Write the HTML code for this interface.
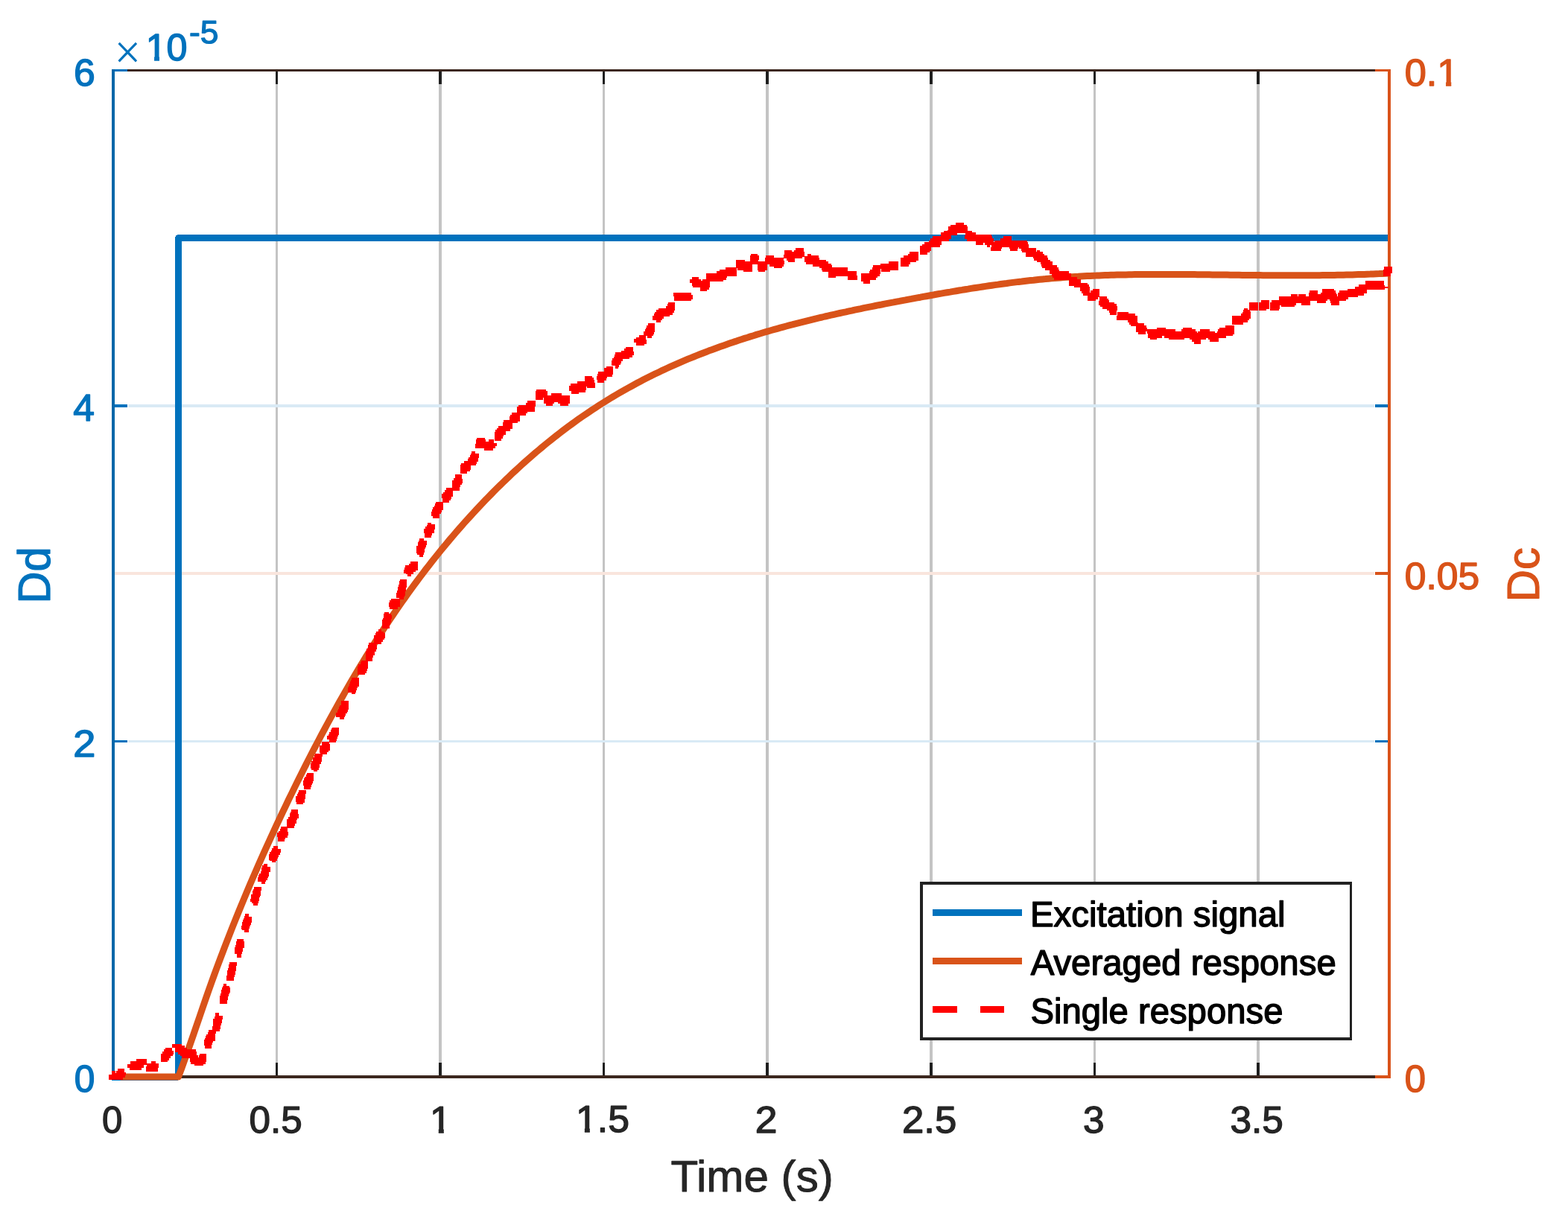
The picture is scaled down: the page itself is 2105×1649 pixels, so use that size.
<!DOCTYPE html>
<html lang="en"><head><meta charset="utf-8"><title>Step response</title>
<style>html,body{margin:0;padding:0;background:#fff}body{width:2105px;height:1649px;overflow:hidden}svg{display:block}text{font-family:"Liberation Sans","DejaVu Sans",sans-serif;text-rendering:geometricPrecision;stroke-linejoin:round}</style></head><body>
<svg width="2105" height="1649" viewBox="0 0 2105 1649">
<rect width="2105" height="1649" fill="#fff"/>
<g shape-rendering="crispEdges">
<rect x="370" y="113" width="3" height="1314" fill="#c4c4c4"/>
<rect x="589" y="113" width="4" height="1314" fill="#c4c4c4"/>
<rect x="809" y="113" width="3" height="1314" fill="#c4c4c4"/>
<rect x="1028" y="113" width="4" height="1314" fill="#c4c4c4"/>
<rect x="1248" y="113" width="4" height="1314" fill="#c4c4c4"/>
<rect x="1468" y="113" width="3" height="1314" fill="#c4c4c4"/>
<rect x="1687" y="113" width="4" height="1314" fill="#c4c4c4"/>
<rect x="172" y="543" width="1673" height="4" fill="#d9eaf5"/>
<rect x="172" y="994" width="1673" height="3" fill="#d9eaf5"/>
<rect x="154" y="768" width="1691" height="4" fill="#f9e5dd"/>
<rect x="370" y="96" width="3" height="17" fill="#1f1f1f"/>
<rect x="370" y="1427" width="3" height="17" fill="#1f1f1f"/>
<rect x="589" y="96" width="4" height="17" fill="#1f1f1f"/>
<rect x="589" y="1427" width="4" height="17" fill="#1f1f1f"/>
<rect x="809" y="96" width="3" height="17" fill="#1f1f1f"/>
<rect x="809" y="1427" width="3" height="17" fill="#1f1f1f"/>
<rect x="1028" y="96" width="4" height="17" fill="#1f1f1f"/>
<rect x="1028" y="1427" width="4" height="17" fill="#1f1f1f"/>
<rect x="1248" y="96" width="4" height="17" fill="#1f1f1f"/>
<rect x="1248" y="1427" width="4" height="17" fill="#1f1f1f"/>
<rect x="1468" y="96" width="3" height="17" fill="#1f1f1f"/>
<rect x="1468" y="1427" width="3" height="17" fill="#1f1f1f"/>
<rect x="1687" y="96" width="4" height="17" fill="#1f1f1f"/>
<rect x="1687" y="1427" width="4" height="17" fill="#1f1f1f"/>
<rect x="150" y="93" width="1717" height="3" fill="#3c271e"/>
<rect x="150" y="1444" width="1717" height="4" fill="#3c271e"/>
<rect x="154" y="93" width="17" height="3" fill="#0072BD"/>
<rect x="1846" y="93" width="17" height="3" fill="#0072BD"/>
<rect x="154" y="543" width="17" height="4" fill="#0072BD"/>
<rect x="1846" y="543" width="17" height="4" fill="#0072BD"/>
<rect x="154" y="994" width="17" height="3" fill="#0072BD"/>
<rect x="1846" y="994" width="17" height="3" fill="#0072BD"/>
<rect x="154" y="1444" width="17" height="4" fill="#0072BD"/>
<rect x="1846" y="1444" width="17" height="4" fill="#0072BD"/>
<rect x="150" y="93" width="4" height="1355" fill="#0767a9"/>
<rect x="1846" y="93" width="17" height="3" fill="#D95319"/>
<rect x="1846" y="768" width="17" height="4" fill="#D95319"/>
<rect x="1846" y="1444" width="17" height="4" fill="#D95319"/>
<rect x="1863" y="93" width="4" height="1355" fill="#d9531a"/>
</g>
<path d="M150,1446 L239.3,1446 L239.6,319.5 L1863,319.5" fill="none" stroke="#0072BD" stroke-width="9" stroke-linejoin="round" shape-rendering="crispEdges"/>
<path d="M161.5,1446.0 L239.5,1446.0 L243.5,1435.3 L247.5,1424.3 L251.5,1413.0 L255.5,1401.6 L259.5,1390.0 L263.5,1378.3 L267.5,1366.6 L271.5,1354.9 L275.5,1343.3 L279.5,1331.8 L283.5,1320.5 L287.5,1309.4 L291.5,1298.5 L295.5,1287.8 L299.5,1277.3 L303.5,1266.8 L307.5,1256.6 L311.5,1246.4 L315.5,1236.4 L319.5,1226.5 L323.5,1216.8 L327.5,1207.1 L331.5,1197.6 L335.5,1188.1 L339.5,1178.8 L343.5,1169.6 L347.5,1160.4 L351.5,1151.4 L355.5,1142.4 L359.5,1133.6 L363.5,1124.8 L367.5,1116.1 L371.5,1107.5 L375.5,1099.0 L379.5,1090.5 L383.5,1082.2 L387.5,1073.8 L391.5,1065.6 L395.5,1057.4 L399.5,1049.3 L403.5,1041.3 L407.5,1033.3 L411.5,1025.4 L415.5,1017.6 L419.5,1009.8 L423.5,1002.1 L427.5,994.5 L431.5,986.9 L435.5,979.5 L439.5,972.0 L443.5,964.7 L447.5,957.4 L451.5,950.2 L455.5,943.0 L459.5,936.0 L463.5,928.9 L467.5,922.0 L471.5,915.1 L475.5,908.3 L479.5,901.6 L483.5,894.9 L487.5,888.3 L491.5,881.7 L495.5,875.3 L499.5,868.9 L503.5,862.5 L507.5,856.3 L511.5,850.1 L515.5,843.9 L519.5,837.8 L523.5,831.8 L527.5,825.9 L531.5,820.0 L535.5,814.2 L539.5,808.5 L543.5,802.8 L547.5,797.2 L551.5,791.6 L555.5,786.1 L559.5,780.7 L563.5,775.4 L567.5,770.1 L571.5,764.8 L575.5,759.7 L579.5,754.5 L583.5,749.5 L587.5,744.5 L591.5,739.5 L595.5,734.6 L599.5,729.8 L603.5,725.0 L607.5,720.3 L611.5,715.6 L615.5,711.0 L619.5,706.5 L623.5,701.9 L627.5,697.5 L631.5,693.1 L635.5,688.7 L639.5,684.4 L643.5,680.1 L647.5,675.9 L651.5,671.7 L655.5,667.6 L659.5,663.5 L663.5,659.4 L667.5,655.4 L671.5,651.5 L675.5,647.6 L679.5,643.7 L683.5,639.9 L687.5,636.1 L691.5,632.4 L695.5,628.7 L699.5,625.0 L703.5,621.4 L707.5,617.9 L711.5,614.4 L715.5,610.9 L719.5,607.4 L723.5,604.1 L727.5,600.7 L731.5,597.4 L735.5,594.1 L739.5,590.9 L743.5,587.7 L747.5,584.6 L751.5,581.5 L755.5,578.4 L759.5,575.4 L763.5,572.4 L767.5,569.5 L771.5,566.6 L775.5,563.7 L779.5,560.9 L783.5,558.1 L787.5,555.4 L791.5,552.7 L795.5,550.0 L799.5,547.4 L803.5,544.8 L807.5,542.3 L811.5,539.8 L815.5,537.3 L819.5,534.8 L823.5,532.4 L827.5,530.0 L831.5,527.7 L835.5,525.4 L839.5,523.1 L843.5,520.9 L847.5,518.7 L851.5,516.5 L855.5,514.3 L859.5,512.2 L863.5,510.1 L867.5,508.1 L871.5,506.1 L875.5,504.1 L879.5,502.1 L883.5,500.2 L887.5,498.2 L891.5,496.4 L895.5,494.5 L899.5,492.7 L903.5,490.9 L907.5,489.1 L911.5,487.3 L915.5,485.6 L919.5,483.9 L923.5,482.2 L927.5,480.6 L931.5,479.0 L935.5,477.4 L939.5,475.8 L943.5,474.2 L947.5,472.7 L951.5,471.1 L955.5,469.7 L959.5,468.2 L963.5,466.7 L967.5,465.3 L971.5,463.9 L975.5,462.5 L979.5,461.1 L983.5,459.7 L987.5,458.4 L991.5,457.0 L995.5,455.7 L999.5,454.4 L1003.5,453.2 L1007.5,451.9 L1011.5,450.7 L1015.5,449.4 L1019.5,448.2 L1023.5,447.0 L1027.5,445.8 L1031.5,444.7 L1035.5,443.5 L1039.5,442.4 L1043.5,441.3 L1047.5,440.2 L1051.5,439.1 L1055.5,438.0 L1059.5,436.9 L1063.5,435.9 L1067.5,434.8 L1071.5,433.8 L1075.5,432.8 L1079.5,431.8 L1083.5,430.8 L1087.5,429.8 L1091.5,428.8 L1095.5,427.8 L1099.5,426.9 L1103.5,426.0 L1107.5,425.0 L1111.5,424.1 L1115.5,423.2 L1119.5,422.3 L1123.5,421.4 L1127.5,420.5 L1131.5,419.6 L1135.5,418.8 L1139.5,417.9 L1143.5,417.1 L1147.5,416.2 L1151.5,415.4 L1155.5,414.6 L1159.5,413.7 L1163.5,412.9 L1167.5,412.1 L1171.5,411.3 L1175.5,410.5 L1179.5,409.7 L1183.5,409.0 L1187.5,408.2 L1191.5,407.4 L1195.5,406.6 L1199.5,405.9 L1203.5,405.1 L1207.5,404.4 L1211.5,403.6 L1215.5,402.9 L1219.5,402.1 L1223.5,401.4 L1227.5,400.6 L1231.5,399.9 L1235.5,399.2 L1239.5,398.4 L1243.5,397.7 L1247.5,397.0 L1251.5,396.3 L1255.5,395.5 L1259.5,394.8 L1263.5,394.1 L1267.5,393.4 L1271.5,392.7 L1275.5,392.1 L1279.5,391.4 L1283.5,390.7 L1287.5,390.0 L1291.5,389.4 L1295.5,388.7 L1299.5,388.1 L1303.5,387.4 L1307.5,386.8 L1311.5,386.2 L1315.5,385.6 L1319.5,385.0 L1323.5,384.4 L1327.5,383.8 L1331.5,383.2 L1335.5,382.6 L1339.5,382.1 L1343.5,381.5 L1347.5,381.0 L1351.5,380.5 L1355.5,379.9 L1359.5,379.4 L1363.5,378.9 L1367.5,378.4 L1371.5,378.0 L1375.5,377.5 L1379.5,377.0 L1383.5,376.6 L1387.5,376.2 L1391.5,375.7 L1395.5,375.3 L1399.5,374.9 L1403.5,374.6 L1407.5,374.2 L1411.5,373.8 L1415.5,373.5 L1419.5,373.2 L1423.5,372.9 L1427.5,372.6 L1431.5,372.3 L1435.5,372.0 L1439.5,371.7 L1443.5,371.5 L1447.5,371.3 L1451.5,371.0 L1455.5,370.8 L1459.5,370.6 L1463.5,370.4 L1467.5,370.2 L1471.5,370.1 L1475.5,369.9 L1479.5,369.7 L1483.5,369.6 L1487.5,369.5 L1491.5,369.3 L1495.5,369.2 L1499.5,369.1 L1503.5,369.0 L1507.5,368.9 L1511.5,368.9 L1515.5,368.8 L1519.5,368.7 L1523.5,368.6 L1527.5,368.6 L1531.5,368.5 L1535.5,368.5 L1539.5,368.5 L1543.5,368.5 L1547.5,368.4 L1551.5,368.4 L1555.5,368.4 L1559.5,368.4 L1563.5,368.4 L1567.5,368.4 L1571.5,368.4 L1575.5,368.4 L1579.5,368.4 L1583.5,368.5 L1587.5,368.5 L1591.5,368.5 L1595.5,368.5 L1599.5,368.6 L1603.5,368.6 L1607.5,368.7 L1611.5,368.7 L1615.5,368.7 L1619.5,368.8 L1623.5,368.8 L1627.5,368.9 L1631.5,368.9 L1635.5,369.0 L1639.5,369.0 L1643.5,369.1 L1647.5,369.1 L1651.5,369.2 L1655.5,369.2 L1659.5,369.3 L1663.5,369.3 L1667.5,369.4 L1671.5,369.4 L1675.5,369.5 L1679.5,369.5 L1683.5,369.5 L1687.5,369.6 L1691.5,369.6 L1695.5,369.7 L1699.5,369.7 L1703.5,369.7 L1707.5,369.7 L1711.5,369.8 L1715.5,369.8 L1719.5,369.8 L1723.5,369.8 L1727.5,369.8 L1731.5,369.8 L1735.5,369.8 L1739.5,369.8 L1743.5,369.8 L1747.5,369.8 L1751.5,369.8 L1755.5,369.8 L1759.5,369.8 L1763.5,369.7 L1767.5,369.7 L1771.5,369.7 L1775.5,369.6 L1779.5,369.6 L1783.5,369.5 L1787.5,369.5 L1791.5,369.4 L1795.5,369.3 L1799.5,369.2 L1803.5,369.2 L1807.5,369.1 L1811.5,369.0 L1815.5,368.9 L1819.5,368.7 L1823.5,368.6 L1827.5,368.5 L1831.5,368.4 L1835.5,368.2 L1839.5,368.1 L1843.5,367.9 L1847.5,367.7 L1851.5,367.6 L1855.5,367.4 L1859.5,367.2 L1863.5,367.0 L1865.0,366.9" fill="none" stroke="#D95319" stroke-width="9.0" stroke-linejoin="round"/>
<path d="M150,1442.5h.2v2.6h10.1v-2.6h.2v2.6h.2v-2.6h1.8v-2.6h.2v2.6h.3v-2.6h1.5v-2.6h1.5v-2.6h2v-2.6h.2v2.6h.3v-2.6h1.2v-2.6h3.1v-2.6h2.4v2.6h3.6v2.6h6.9v-2.6h1.8v-2.6h.8v2.6h.2v-2.6h3.5v2.6h.5v-2.6h.2v2.6h.6v-2.6h.2v2.6h1.5v2.6h3.5v2.6h.2v-2.6h.8v2.6h.2v-2.6h.8v2.6h.5v-2.6h.2v2.6h.6v-2.6h.2v2.6h4.2v-2.6h.3v2.6h.5v-2.6h.8v-2.6h.7v-2.6h.8v-2.6h.7v-2.6h.8v-2.6h1.2v-2.6h.5v2.6h5.5v2.6h.2v-2.6h1.8v2.6h.2v-2.6h2.6v-2.6h1.4v-2.6h.3v2.6h.2v-2.6h1.8v-2.6h.2v2.6h.6v-2.6h1.4v-2.6h.3v2.6h.2v-2.6h.6v2.6h.4v-2.6h3.3v-2.6h.5v2.6h.2v-2.6h.3v2.6h.8v-2.6h3.7v2.6h4.8v2.6h2.4v2.6h2.1v2.6h.2v-2.6h1.2v2.6h.3v-2.6h.2v-2.6h.3v5.2h.2v-2.6h4.6v-2.6h.2v2.6h.2v-2.6h.3v2.6h.2v-2.6h.3v2.6h1.2v2.6h.3v-2.6h.2v2.6h.8v2.6h.5v2.6h.8v2.6h.2v-2.6h.2v2.6h.3v-2.6h.2v2.6h.6v2.6h.2v-2.6h.2v2.6h.3v-2.6h.2v2.6h.3v-2.6h.2v2.6h.3v-2.6h.5v2.6h.5v-2.6h.5v2.6h.2v-2.6h.3v2.6h1.8v-2.6h.7v2.6h.2v-2.6h3.1v-2.6h.7v-2.6h.5v2.6h.2v-2.6h1.1v-2.6h.7v-2.6h.8v-2.6h.2v-2.6h.2v2.6h.6v-2.6h.7v-2.6h.8v-2.6h.4v2.6h.3v-5.2h.8v2.6h.2v-5.2h.8v-2.6h.9v-2.6h2.3v-2.6h.5v2.6h.2v-2.6h.6v-2.6h.4v2.6h.3v-2.6h.8v-2.6h.2v2.6h.8v-2.6h.4v-2.6h.3v2.6h.5v-2.6h.8v-2.6h.2v-2.6h.2v2.6h.6v-2.6h.2v-2.6h.2v-2.6h.3v5.2h.2v-2.6h.3v-2.6h.8v-2.6h.7v-2.6h.8v-2.6h.4v-2.6h.6v-2.6h.4v-2.6h.8v-2.6h1v-2.6h.2v-2.6h.3v2.6h.2v-2.6h.6v-2.6h.4v-2.6h.8v-2.6h.2v2.6h.3v-5.2h1v-2.6h.8v-2.6h.7v-2.6h.8v-2.6h.2v2.6h.2v-2.6h.3v-2.6h.5v-2.6h.2v2.6h.3v-2.6h.5v-2.6h1v-2.6h.5v-2.6h.5v-2.6h.2v2.6h.3v-2.6h.2v-2.6h.3v2.6h.5v-2.6h.2v-2.6h.3v2.6h.2v-2.6h.3v-2.6h.5v2.6h.2v-2.6h.6v-2.6h.4v-2.6h.8v-2.6h.5v2.6h.2v-2.6h.3v-2.6h1v-2.6h1v-2.6h.5v-2.6h.5v2.6h.2v-2.6h.3v-2.6h1v-2.6h1v-2.6h.8v-2.6h.7v-2.6h.5v-2.6h.2v2.6h.3v-2.6h.2v-2.6h.8v-2.6h.2v2.6h.3v-2.6h.5v-2.6h.8v-2.6h.7v-2.6h.2v2.6h.3v-2.6h.2v-2.6h.8v-2.6h.5v-2.6h.2v2.6h.3v-2.6h.5v-2.6h1v-2.6h.2v-2.6h.3v2.6h.2v-2.6h1.1v-2.6h.2v-2.6h.2v2.6h.3v-2.6h.8v-2.6h.9v-2.6h.6v-2.6h1.2v-2.6h.8v-2.6h.7v-2.6h.8v-2.6h.2v2.6h.2v-2.6h.8v-2.6h1v-2.6h.5v-2.6h1.5v-2.6h.2v-2.6h.3v2.6h.5v-2.6h.5v-2.6h.5v-2.6h.8v-2.6h.2v2.6h.2v-2.6h1.1v-2.6h.2v2.6h.2v-2.6h.3v-2.6h.2v2.6h.3v-2.6h.2v-2.6h.3v2.6h.2v-2.6h1.1v-2.6h.4v-2.6h1.6v-2.6h.9v-2.6h.8v-2.6h1.5v-2.6h1v-2.6h.5v-2.6h.8v2.6h.2v-2.6h.2v-2.6h1.8v-2.6h.2v-2.6h.3v2.6h.2v-2.6h2.1v-2.6h.9v-2.6h1.1v-2.6h.2v2.6h.2v-2.6h1.3v2.6h.2v-2.6h.3v-2.6h.8v-2.6h.4v2.6h.3v-2.6h.2v2.6h.6v-2.6h.7v-2.6h1.2v-2.6h1.8v-2.6h1v-5.2h.2v2.6h.3v-2.6h.2v-2.6h.3v2.6h.2v-2.6h.6v-2.6h.2v-2.6h1.5v-2.6h.8v-2.6h.4v2.6h.3v-2.6h.8v-2.6h.2v2.6h.2v-2.6h1.6v-2.6h.2v2.6h.5v-2.6h.2v-2.6h.3v2.6h.8v-2.6h.2v2.6h.5v-2.6h1v-2.6h.2v2.6h.3v-2.6h1.2v2.6h.3v-2.6h.2v-2.6h2.8v-5.2h.2v2.6h.8v-2.6h1.5v-2.6h1.8v-2.6h.4v-2.6h1.1v-2.6h.4v-2.6h.3v2.6h.5v-2.6h.5v-2.6h1v-2.6h.8v-2.6h.4v-2.6h.3v2.6h.5v-2.6h.8v-2.6h.2v2.6h.2v-2.6h.6v-2.6h.2v-2.6h.5v2.6h.2v-2.6h.3v2.6h.2v-2.6h.8v-2.6h.2v2.6h.3v-2.6h.8v-2.6h.9v-2.6h.3v2.6h.2v-2.6h.8v-2.6h1v-2.6h.2v2.6h.3v-2.6h1.2v-2.6h.6v-2.6h.2v2.6h.2v-2.6h1.1v-2.6h.2v2.6h.2v-5.2h.3v2.6h.5v-2.6h.2v-2.6h.3v2.6h.8v-2.6h.7v-2.6h1v-2.6h.2v2.6h.3v-2.6h.2v2.6h.3v-2.6h.2v-2.6h1.1v-2.6h.9v-2.6h.3v2.6h.2v-2.6h.6v-2.6h1.4v-2.6h.6v-2.6h.4v2.6h.3v-2.6h1v-2.6h.2v2.6h.3v-5.2h2.2v-2.6h.8v-2.6h.5v2.6h.2v-2.6h1.1v-2.6h.2v2.6h.2v-2.6h.3v2.6h.2v-2.6h.6v-2.6h1.4v-2.6h.6v2.6h.2v-2.6h.5v-2.6h.5v2.6h.5v-2.6h1.5v-2.6h.8v-2.6h.2v2.6h.2v-2.6h.6v2.6h.2v-2.6h.5v-2.6h.2v2.6h.6v-2.6h.2v2.6h.2v-2.6h.8v-2.6h.2v2.6h.3v-2.6h.2v2.6h.6v-2.6h1.4v-2.6h1.8v-2.6h1v2.6h.2v-2.6h.3v-2.6h.5v2.6h.2v-2.6h1.3v-2.6h.5v-2.6h1v-5.2h.2v2.6h.8v-2.6h.8v-2.6h.7v-2.6h.5v-2.6h.5v2.6h.5v-2.6h.5v-2.6h.8v-2.6h.4v-2.6h1.3v-2.6h1.2v-2.6h1.1v-2.6h1.2v-2.6h.2v2.6h.3v-2.6h1.2v-2.6h.6v-2.6h.2v2.6h.2v-2.6h.8v-2.6h.5v2.6h.5v-2.6h.8v-2.6h1.2v-2.6h1.5v-2.6h1v-2.6h1v-2.6h1v-2.6h1v-2.6h1v-2.6h.8v-2.6h1.2v-2.6h.8v-2.6h.2v2.6h.2v-2.6h.3v2.6h.2v-2.6h.6v-2.6h.4v-2.6h.3v2.6h.2v-2.6h1.6v-2.6h1.2v-2.6h.2v2.6h.3v-2.6h1.2v-2.6h1.1v-2.6h.2v2.6h.5v-2.6h.8v-2.6h.9v2.6h.3v-2.6h1v-2.6h.2v2.6h.3v-2.6h.8v-2.6h.2v2.6h.2v-2.6h.3v2.6h.2v-2.6h1.1v-2.6h1.2v-2.6h.5v-2.6h1v2.6h.2v-2.6h.3v-2.6h.2v2.6h.3v-2.6h.2v2.6h.3v-2.6h.2v-2.6h.8v-2.6h1.5v-2.6h.8v-2.6h.9v-2.6h.8v2.6h.2v-2.6h.3v-2.6h.2v2.6h.3v-2.6h.8v-2.6h.2v2.6h.2v-2.6h.3v2.6h.2v-2.6h1.3v-2.6h1.5v-2.6h.5v2.6h.2v-2.6h.3v2.6h.5v-2.6h.8v-2.6h.2v2.6h.5v-2.6h.8v-2.6h.2v2.6h1v-2.6h1.2v-2.6h.5v2.6h.3v-5.2h.2v2.6h.8v-2.6h1.2v-2.6h.8v-2.6h.5v-2.6h.2v2.6h.3v-2.6h.5v-2.6h.2v2.6h.3v-2.6h.2v-2.6h.8v-2.6h.2v2.6h.3v-2.6h.2v-2.6h.3v2.6h.2v-2.6h.5v-2.6h.8v-2.6h.2v-2.6h.3v2.6h.2v-2.6h.3v2.6h.2v-2.6h.3v-2.6h.5v-2.6h.2v2.6h1v-2.6h1.5v-2.6h1v-2.6h.3v2.6h.8v-2.6h.2v2.6h.5v-2.6h.2v-2.6h.3v2.6h1.2v-2.6h1.3v2.6h.2v-2.6h.3v-2.6h.5v2.6h.2v-2.6h.5v2.6h.3v-2.6h.2v-2.6h.3v2.6h.8v-2.6h.2v2.6h.2v-2.6h.3v-2.6h1.5v-2.6h.8v-2.6h.2v-2.6h.5v2.6h.2v-2.6h.3v-2.6h.8v-2.6h.5v-2.6h.5v-2.6h.2v2.6h.2v-2.6h.3v-2.6h.8v-2.6h.7v-2.6h1v-2.6h.2v2.6h.3v-2.6h1v-2.6h.2v2.6h.3v-2.6h1v-2.6h1v-2.6h.5v2.6h1.5v-2.6h2.8v-2.6h2.5v-2.6h.7v2.6h.2v-2.6h1v-2.6h1.5v-2.6h1.3v-2.6h.2v-2.6h.3v2.6h.5v-2.6h.5v-2.6h.2v2.6h.3v-5.2h1v-2.6h.2v-2.6h.3v2.6h.2v-2.6h.8v-2.6h.2v-2.6h.8v-2.6h.2v2.6h.3v-2.6h.5v-2.6h1.5v-2.6h.2v2.6h.3v-2.6h.8v-2.6h.7v-2.6h.2v2.6h.3v-2.6h.2v2.6h.3v-2.6h1v-2.6h1.2v-2.6h.5v2.6h.3v-2.6h.5v-2.6h.2v2.6h.5v-2.6h1.5v-2.6h.5v2.6h.3v-5.2h1.2v-2.6h.8v-2.6h.8v-2.6h.2v2.6h.2v-2.6h.5v-2.6h.3v2.6h.2v-5.2h.3v2.6h.5v-2.6h.8v-2.6h.7v-2.6h.5v2.6h.2v-2.6h.5v-2.6h1.5v-2.6h1v-2.6h1.3v-2.6h.8v2.6h.5v-2.6h1v-2.6h.5v-2.6h.2v2.6h1.2v-2.6h.5v-2.6h.3v2.6h1v-2.6h.2v2.6h.5v-2.6h1v-2.6h.8v2.6h.2v-2.6h1v-2.6h.3v2.6h.5v-2.6h1.2v-2.6h.3v2.6h.2v-2.6h1.5v-2.6h.5v2.6h.8v-2.6h.2v2.6h.3v-2.6h1.8v-2.6h1v-2.6h.2v2.6h1.5v-2.6h1.5v-2.6h.5v-2.6h.2v5.2h.3v-5.2h.5v2.6h.2v-2.6h.8v-2.6h1.5v-2.6h.2v-2.6h.3v2.6h.5v-2.6h.2v2.6h.3v-2.6h.8v-2.6h1.2v-2.6h.2v2.6h.3v-2.6h.5v-2.6h2v-2.6h.8v-2.6h.2v2.6h.2v-2.6h1v-2.6h.3v2.6h.8v-2.6h.5v2.6h.2v-2.6h.2v2.6h.3v-2.6h1.2v-2.6h.3v2.6h1.2v-5.2h.3v2.6h.2v2.6h.3v-2.6h1.2v-2.6h.3v2.6h.5v-2.6h.5v2.6h.2v-2.6h.8v-2.6h.2v2.6h.5v-2.6h.3v2.6h.2v-2.6h1.3v-2.6h1v-2.6h.2v2.6h.3v-2.6h.5v-2.6h.5v-2.6h.5v2.6h.2v-2.6h.8v-2.6h.2v-2.6h.8v-2.6h1v-2.6h.5v2.6h.2v-5.2h.3v2.6h.5v-2.6h1v-2.6h.2v2.6h.5v2.6h.3v-2.6h.8v-2.6h.2v2.6h.2v2.6h.3v-2.6h1.2v2.6h.3v-2.6h.5v2.6h.5v-2.6h.2v2.6h1v-2.6h.3v2.6h1.8v2.6h.2v-2.6h.5v2.6h1v-2.6h.2v2.6h.5v-2.6h.3v2.6h.5v-2.6h.5v2.6h.5v-2.6h.5v2.6h.8v-2.6h2.5v-2.6h2.5v-2.6h2.2v-2.6h.5v-2.6h.2v2.6h.3v-2.6h.8v2.6h.2v-5.2h.2v2.6h.5v-2.6h.3v2.6h.5v-2.6h1v-2.6h.2v2.6h.5v-2.6h1.5v-2.6h1.5v-2.6h.3v2.6h.2v-2.6h.3v2.6h.2v-2.6h1v2.6h.3v-2.6h.8v-2.6h.2v2.6h.2v-2.6h.3v2.6h.2v-2.6h1v-2.6h.3v2.6h.8v-2.6h.2v2.6h.2v-2.6h.3v2.6h.2v-2.6h.3v-2.6h.2v2.6h.5v-2.6h.8v2.6h.2v-2.6h1v2.6h.3v-5.2h.2v2.6h.3v-2.6h1v2.6h.5v-2.6h.2v-2.6h.3v2.6h.8v-2.6h.5v2.6h.7v-2.6h1.5v-2.6h.2v2.6h.3v-2.6h.2v2.6h.3v-2.6h1.2v-2.6h.8v2.6h.2v-2.6h.5v2.6h.3v-5.2h.2v2.6h.3v-2.6h.8v2.6h.2v-2.6h.5v-2.6h.2v2.6h1v-2.6h1.3v-2.6h.2v2.6h.3v-2.6h.2v2.6h.8v-2.6h.8v-2.6h.2v2.6h.2v2.6h.3v-2.6h1.2v-2.6h.5v2.6h.3v-2.6h1.5v-2.6h.5v2.6h.2v-2.6h.3v2.6h1v-2.6h.2v2.6h2.3v-2.6h.5v2.6h.2v-2.6h.5v2.6h.3v-2.6h1v2.6h.2v-2.6h.3v2.6h.2v-2.6h.3v-2.6h.2v2.6h.3v2.6h.5v-5.2h.5v2.6h2.2v-2.6h.3v2.6h.8v-2.6h1.5v-2.6h.2v-2.6h.2v2.6h.3v-2.6h1.5v-2.6h1v-2.6h1v-2.6h.5v2.6h.5v-2.6h.5v-2.6h.2v2.6h.3v-2.6h2.5v2.6h.5v-2.6h.2v2.6h1.8v2.6h.2v-2.6h.3v2.6h.5v-2.6h.2v2.6h.8v2.6h.2v-2.6h.5v2.6h.8v-2.6h.2v2.6h.5v2.6h.3v-2.6h.2v2.6h1v-2.6h.3v2.6h.5v-2.6h.2v2.6h.8v2.6h.2v-2.6h.3v-2.6h.5v2.6h.8v-2.6h.2v2.6h1.5v-2.6h.2v2.6h.3v-5.2h.2v2.6h.3v2.6h.2v-2.6h1.3v2.6h.2v-2.6h.5v-2.6h2v2.6h.3v-2.6h.2v2.6h.3v-2.6h.2v2.6h.3v-2.6h.2v2.6h.3v-2.6h1.8v2.6h.2v-2.6h.2v2.6h1v-2.6h.3v2.6h.2v-2.6h.3v2.6h.5v2.6h.2v-2.6h.3v2.6h.2v-2.6h.5v2.6h1v-2.6h.5v2.6h1.3v2.6h.5v-2.6h.2v2.6h.8v-2.6h1.2v-2.6h.3v2.6h.5v-2.6h.2v2.6h.8v-2.6h1.5v-2.6h1.2v-2.6h1.3v-2.6h.2v2.6h.8v-2.6h.2v-2.6h.5v2.6h.3v-2.6h1.2v-2.6h2.5v-2.6h.8v2.6h.2v2.6h.3v-2.6h1.5v-2.6h.5v2.6h.8v-2.6h.7v2.6h.2v-2.6h.3v2.6h.2v-2.6h.5v2.6h.3v-2.6h.5v2.6h.2v-2.6h.3v2.6h.2v-5.2h.3v5.2h.2v-2.6h.8v-2.6h.2v2.6h.5v2.6h.3v-2.6h.2v2.6h.3v-2.6h1.2v-2.6h.3v2.6h.2v-2.6h.5v2.6h.3v-2.6h1.2v-2.6h.3v2.6h.2v-2.6h1v-2.6h.5v2.6h.3v-2.6h2.2v2.6h.3v-2.6h.2v-2.6h.3v2.6h.2v2.6h.3v-2.6h1.5v2.6h.8v2.6h.2v-2.6h.2v2.6h.3v-2.6h.2v2.6h.5v-2.6h.5v2.6h.5v-2.6h.3v2.6h4.8v-2.6h2v-2.6h2.2v-2.6h.2v2.6h.3v-2.6h1v-2.6h.5v2.6h.2v-2.6h.5v-2.6h.5v2.6h.3v-2.6h.5v2.6h.2v-2.6h.3v2.6h.2v-2.6h.8v-2.6h.2v2.6h.8v-2.6h.2v2.6h.5v-2.6h.5v-2.6h.3v5.2h.2v-2.6h1v-2.6h.3v2.6h1v-2.6h.2v2.6h.3v-2.6h.2v2.6h.5v-2.6h.5v2.6h.3v-2.6h.2v2.6h.3v-2.6h.5v-2.6h.2v2.6h.5v-2.6h.3v2.6h.2v-2.6h.3v2.6h.2v-2.6h2.5v-2.6h1.5v-2.6h1.5v-2.6h.3v2.6h.2v-2.6h.3v-2.6h2v-2.6h1.2v-2.6h.3v2.6h.2v-2.6h1v-2.6h.3v2.6h.2v-2.6h.3v2.6h.2v-2.6h2.3v-2.6h.5v2.6h1.5v-2.6h.8v2.6h.2v-2.6h.2v2.6h.3v-2.6h.5v2.6h.8v-2.6h1.2v2.6h.2v-2.6h1.8v-2.6h.2v2.6h2.3v-5.2h.2v2.6h.8v-2.6h.2v2.6h1v-2.6h1v-2.6h1.3v-2.6h1.8v-2.6h.2v2.6h.2v-2.6h2v-2.6h1.3v2.6h.5v-2.6h3v-2.6h.2v2.6h.5v-2.6h.5v2.6h.3v-2.6h.8v2.6h.2v-2.6h1.5v-2.6h.2v2.6h1.5v-2.6h1v2.6h.3v-2.6h.2v2.6h.3v-2.6h.8v-2.6h.7v2.6h.2v-2.6h.5v-2.6h.3v2.6h.8v-2.6h1.7v-2.6h1v-2.6h.5v2.6h.2v-2.6h.5v-2.6h.5v2.6h.3v-2.6h.5v-2.6h.2v2.6h.3v-2.6h1.2v-2.6h1.8v-2.6h1v-2.6h.2v2.6h.3v-2.6h.5v2.6h.2v-2.6h.3v-2.6h.2v2.6h.3v-2.6h1.5v-2.6h1.8v-2.6h.2v2.6h.2v-2.6h1v-2.6h.3v2.6h.5v-2.6h2.2v-2.6h.3v2.6h.2v-2.6h.3v2.6h.5v-2.6h.8v2.6h.2v-2.6h.2v2.6h.3v-2.6h.8v2.6h.5v-2.6h.2v2.6h.5v-2.6h1.2v2.6h.3v-2.6h3.8v-2.6h.2v2.6h.2v-2.6h1.8v-2.6h.5v-2.6h.5v2.6h.2v-2.6h.5v-2.6h.3v2.6h.2v-2.6h.8v-2.6h1.5v-2.6h.8v-2.6h.2v2.6h.2v-2.6h2.5v-2.6h.5v2.6h1.3v-2.6h.2v2.6h.3v-2.6h.8v2.6h.2v-2.6h.2v2.6h.3v-2.6h.2v2.6h1v-2.6h.5v2.6h.3v-2.6h1v2.6h.5v-2.6h.2v2.6h.3v-2.6h.2v2.6h.5v-2.6h.5v2.6h.3v-2.6h.5v2.6h1.2v-2.6h.3v2.6h.5v-2.6h.2v2.6h.3v-2.6h1.5v2.6h.8v-2.6h.2v2.6h.2v-2.6h2v-2.6h1v-2.6h.3v-2.6h.2v2.6h.3v-2.6h.2v-2.6h1v-2.6h1v-2.6h.3v2.6h.2v-2.6h.5v-2.6h2.5v-2.6h.3v2.6h1v2.6h.2v-2.6h.3v2.6h.2v-2.6h.5v2.6h.3v-2.6h.2v2.6h1.3v2.6h.2v-2.6h.5v2.6h.3v-2.6h.2v2.6h.3v-2.6h.5v2.6h.5v-2.6h.5v2.6h2.8v2.6h.2v-2.6h.5v2.6h.2v-2.6h1.3v-2.6h.2v2.6h.5v-2.6h.5v2.6h.3v-2.6h.8v-2.6h.2v2.6h.5v-2.6h.5v-2.6h.5v2.6h.2v-2.6h.5v-2.6h.3v2.6h.2v-2.6h.3v2.6h.2v-2.6h.3v-2.6h.2v2.6h.3v-2.6h.5v2.6h1v-2.6h1.2v2.6h.5v-2.6h.3v2.6h.2v-2.6h.5v2.6h.3v-2.6h.5v2.6h.2v-2.6h.3v2.6h.2v-2.6h1.5v2.6h.3v-2.6h3.2v2.6h.3v-2.6h.2v2.6h.3v-2.6h2v2.6h.5v-5.2h.2v2.6h.8v-2.6h.2v2.6h2.3v-2.6h.8v2.6h.2v-2.6h.2v-2.6h.5v2.6h.3v-2.6h.8v2.6h.2v-2.6h.2v-2.6h.3v2.6h.5v-2.6h.2v2.6h.5v-2.6h2.3v2.6h.2v-2.6h1.8v2.6h.2v-2.6h1.5v2.6h.5v-2.6h.5v2.6h.3v-2.6h2v2.6h.5v-2.6h.2v2.6h.5v-2.6h.8v-2.6h.2v5.2h.3v-2.6h.2v2.6h.3v-2.6h1.2v-2.6h.8v-2.6h2v-2.6h1.5v-2.6h.5v2.6h.2v-2.6h.3v2.6h.2v-2.6h.3v2.6h1.2v2.6h.3v-5.2h.2v2.6h.8v2.6h3.2v2.6h.3v-2.6h.2v2.6h.5v-2.6h.3v2.6h.2v-2.6h.3v2.6h.2v-2.6h.3v2.6h.2v-2.6h.5v2.6h1.3v-2.6h.2v2.6h.3v-2.6h.5v-2.6h.2v5.2h.3v-5.2h.2v2.6h.3v-2.6h.2v2.6h.3v-2.6h.2v2.6h.3v-2.6h1v-2.6h.2v2.6h.3v-2.6h1.2v-2.6h1.3v-2.6h.2v2.6h.5v-2.6h.3v2.6h.2v-2.6h.3v-2.6h.2v5.2h.3v-2.6h.2v2.6h.3v-2.6h.5v2.6h.2v-2.6h.3v2.6h1v2.6h.2v-2.6h.5v2.6h.3v-2.6h.2v2.6h1.5v2.6h1.8v2.6h.5v-2.6h.2v2.6h1v-2.6h.3v2.6h.8v-2.6h.2v5.2h.2v-2.6h.3v-2.6h.2v2.6h2v-2.6h.3v2.6h.2v-2.6h.3v2.6h.2v-2.6h1.3v-2.6h1.2v2.6h.3v-2.6h.8v-2.6h.2v2.6h.8v-2.6h.2v2.6h.8v-2.6h.2v-2.6h.2v2.6h1.3v-2.6h.2v2.6h.5v-2.6h.3v2.6h3v2.6h.2v-2.6h.3v2.6h.8v-2.6h.2v2.6h.8v2.6h.2v-2.6h.8v2.6h.7v-2.6h.5v2.6h.2v-2.6h.3v2.6h.5v-2.6h.5v2.6h1v-2.6h.2v2.6h.3v-2.6h.2v2.6h.3v-2.6h1v-2.6h.2v2.6h.5v-2.6h.3v2.6h.2v-2.6h.5v-2.6h1.3v-2.6h.2v2.6h.3v-2.6h.8v-2.6h1.5v-2.6h2.2v2.6h.2v-2.6h2v2.6h.3v-2.6h.2v2.6h.3v-2.6h.8v2.6h.2v-2.6h.2v2.6h1.5v2.6h.3v-2.6h.5v2.6h1v2.6h.2v-2.6h2v2.6h.3v-2.6h1.2v-2.6h.3v2.6h1.2v-2.6h.3v2.6h.2v-2.6h.3v2.6h.2v-2.6h2v-2.6h.3v2.6h.2v-2.6h1v2.6h.3v-2.6h.8v-2.6h.2v2.6h.2v-2.6h1.5v2.6h.3v-2.6h4v2.6h.2v-2.6h.5v2.6h.5v-2.6h.5v2.6h.8v2.6h1v2.6h1.2v-2.6h.3v2.6h.5v2.6h2.2v2.6h6.8v-2.6h.2v2.6h.8v-2.6h.2v2.6h.5v2.6h.3v-2.6h.8v-2.6h.5v2.6h.2v-2.6h.5v2.6h.5v-2.6h.2v2.6h3v-2.6h.3v2.6h1.8v2.6h1v2.6h.2v-2.6h.2v2.6h2.5v2.6h1.5v2.6h.3v-2.6h1v2.6h1.2v-2.6h.3v2.6h.5v2.6h.2v-2.6h.3v2.6h.2v-2.6h.3v2.6h.5v-2.6h.5v2.6h1v2.6h.2v-2.6h.8v2.6h.2v-2.6h.5v5.2h.3v-2.6h.2v-2.6h.3v2.6h.2v-2.6h.3v2.6h.5v-2.6h.2v2.6h1v-2.6h.3v2.6h3.8v-2.6h.2v2.6h.5v2.6h.2v-2.6h.5v-2.6h.3v2.6h1.8v-2.6h.5v2.6h.2v-2.6h.2v2.6h.3v-2.6h.5v2.6h.5v-2.6h1.2v2.6h.3v-2.6h1.5v2.6h.2v-2.6h.8v2.6h.2v-2.6h.3v2.6h.2v-2.6h.8v2.6h1.5v-2.6h.2v2.6h2v2.6h1.5v2.6h.3v-2.6h.2v2.6h.3v-2.6h1v2.6h.2v-2.6h.3v2.6h.2v-2.6h.3v2.6h.2v-2.6h.3v2.6h.5v-2.6h1v2.6h1.5v-2.6h.5v2.6h.2v-2.6h.8v2.6h.2v-2.6h4v-2.6h.3v2.6h5.8v2.6h2v2.6h.2v-2.6h.5v2.6h.5v-2.6h.2v2.6h.3v-2.6h.2v2.6h.5v-2.6h.3v5.2h.2v-2.6h1.8v2.6h.2v-2.6h.3v2.6h1v-2.6h.2v2.6h.3v-2.6h2.8v-2.6h.7v-2.6h.2v2.6h.8v-2.6h1.2v-2.6h.8v2.6h.2v-2.6h1.5v-2.6h.3v2.6h.5v-2.6h.8v-2.6h.2v2.6h.8v-2.6h.2v2.6h1.2v-2.6h.3v2.6h.8v-2.6h.2v2.6h.8v-2.6h.5v2.6h.5v-2.6h.2v2.6h.2v-2.6h3.8v-2.6h.5v2.6h.2v-2.6h.8v2.6h.2v-2.6h.8v2.6h.2v-2.6h.8v2.6h.2v-2.6h.5v2.6h.3v-2.6h3v-2.6h.2v2.6h.5v-2.6h.3v2.6h.5v-2.6h.2v2.6h.5v-2.6h.3v2.6h.8v-2.6h.2v2.6h.2v-2.6h.3v2.6h.5v-2.6h.8v2.6h.5v-2.6h.7v2.6h.2v-2.6h.3v2.6h.2v-2.6h1.3v2.6h.5v-2.6h2.2v-2.6h.3v2.6h5.5v-2.6h.5v2.6h1v-2.6h1v-2.6h.2v2.6h.3v-2.6h.2v2.6h.5v-2.6h.3v2.6h.2v-2.6h1.8v-2.6h.2v2.6h.3v-2.6h1.5v-2.6h.2v2.6h.3v-2.6h.2v2.6h.5v-2.6h.3v2.6h.2v-2.6h.3v2.6h.2v-2.6h.3v2.6h.2v-2.6h1v2.6h.3v-2.6h1.8v2.6h.2v-2.6h.2v-2.6h.3v2.6h1.2v-2.6h1v2.6h.3v-2.6h.2v2.6h.3v-2.6h2.5v-2.6h.2v2.6h1.5v-2.6h1.5v-2.6h.3v2.6h2v-2.6h2.5v-2.6h.2v2.6h.3v-2.6h.2v2.6h.3v-2.6h.5v2.6h.2v-2.6h2v-2.6h.5v2.6h.3v-2.6h2.2v-2.6h2v2.6h.3v-2.6h.8v-2.6h.2v2.6h.2v-2.6h.3v2.6h.2v-2.6h.3v2.6h.2v-2.6h1v2.6h.3v-2.6h2v-2.6h1v2.6h.8v-2.6h1.5v-2.6h.2v2.6h.2v2.6h.3v-2.6h1.2v-2.6h.3v2.6h.2v-2.6h.3v2.6h.8v-2.6h2v2.6h.2v-2.6h2.2v-2.6h.8v2.6h.2v-2.6h.5v-2.6h.3v2.6h1v-2.6h.2v2.6h.3v-2.6h.2v2.6h.8v-2.6h.2v2.6h.3v-2.6h2v-2.6h.2v2.6h.3v-2.6h.5v2.6h.2v-5.2h.5v2.6h1v-2.6h.5v2.6h.3v-2.6h.5v2.6h.5v-2.6h.5v-2.6h.2v2.6h.3v-2.6h.2v2.6h.5v-2.6h.3v2.6h.8v-2.6h1.7v2.6h.2v-5.2h.3v2.6h1v-2.6h.2v2.6h.8v-2.6h.2v2.6h.5v-2.6h.3v2.6h.2v-2.6h1.3v2.6h.2v-2.6h.3v-2.6h.2v2.6h1v-2.6h.3v2.6h1.5v-2.6h.2v2.6h1.8v2.6h.2v-2.6h.8v2.6h.2v-2.6h.8v2.6h1.2v2.6h.3v-2.6h.2v2.6h.5v-2.6h.3v2.6h1v2.6h.5v-2.6h.5v2.6h.8v2.6h.7v-2.6h.2v2.6h1v-2.6h.3v2.6h1.5v2.6h.2v-2.6h.3v2.6h.8v-2.6h.2v2.6h1.2v-2.6h.3v2.6h1.2v2.6h.5v-2.6h.5v2.6h1v-2.6h.3v2.6h.2v-2.6h.5v2.6h1.8v-2.6h.2v2.6h1.3v2.6h.2v-2.6h1.8v-2.6h.2v5.2h.3v-2.6h.2v2.6h.3v-5.2h.5v2.6h1v-2.6h.2v2.6h.3v2.6h.2v-5.2h.3v2.6h1v-2.6h.2v2.6h.5v2.6h.3v-2.6h2.5v-2.6h.2v2.6h1v-2.6h.8v2.6h.5v-2.6h.5v2.6h.2v-2.6h.3v2.6h.5v2.6h.2v-2.6h.8v2.6h1.5v2.6h.2v-2.6h.3v2.6h.8v2.6h.5v-2.6h.5v2.6h1.5v2.6h.2v-2.6h.2v2.6h.8v-2.6h.8v2.6h.5v-2.6h1.5v2.6h.2v-2.6h.5v2.6h.2v-2.6h1.3v-2.6h.2v2.6h.3v2.6h.2v-2.6h.8v-2.6h.5v2.6h.2v-2.6h2v-2.6h.3v2.6h.2v-2.6h.5v2.6h.3v-2.6h.5v2.6h.2v-2.6h1.5v2.6h.3v-2.6h1.5v2.6h.2v-2.6h1v2.6h.3v-2.6h1.2v-2.6h.5v2.6h1v-2.6h.3v2.6h.5v2.6h.2v-2.6h2v2.6h.5v-2.6h.3v2.6h.2v-2.6h.5v2.6h1v-2.6h.3v2.6h.2v2.6h.3v-2.6h.2v2.6h.5v-2.6h.5v2.6h.3v-2.6h.2v5.2h.3v-2.6h.2v-2.6h.3v2.6h1.2v-2.6h.3v2.6h1v-2.6h.2v2.6h3.8v-2.6h.5v5.2h.2v-5.2h.3v2.6h.8v2.6h.2v-2.6h2v-2.6h.2v2.6h.3v-2.6h.2v2.6h1.3v-2.6h.2v2.6h.8v2.6h1v2.6h.2v-2.6h.3v2.6h.5v-2.6h.5v2.6h.5v2.6h.2v-2.6h.3v2.6h.8v-2.6h.2v2.6h.5v2.6h.5v-2.6h1.2v2.6h.3v-2.6h.2v2.6h.8v-2.6h.2v2.6h1v-2.6h.3v2.6h.5v-2.6h.2v2.6h.5v-2.6h.3v2.6h.8v2.6h.2v-2.6h1v2.6h.5v-2.6h.2v2.6h.3v-2.6h.5v2.6h.8v-2.6h.2v2.6h1v-2.6h.2v2.6h.8v2.6h.2v-2.6h1.5v2.6h.3v-2.6h.2v2.6h.5v-2.6h.3v2.6h1.2v2.6h.3v-2.6h.5v2.6h.2v-2.6h.3v2.6h.5v-2.6h.2v5.2h1v2.6h.3v-5.2h.2v2.6h.5v-2.6h.3v2.6h1v2.6h1.5v2.6h.2v-2.6h.8v2.6h.2v-2.6h.5v2.6h2.5v2.6h.5v-2.6h.5v2.6h1v2.6h.3v-2.6h1.2v2.6h.5v-2.6h.3v2.6h1v2.6h.2v-5.2h.3v2.6h.2v2.6h.3v-2.6h.8v2.6h1.2v2.6h1.5v2.6h1.5v2.6h.2v-2.6h.3v2.6h.2v-2.6h.3v2.6h.2v-2.6h.3v2.6h.5v-2.6h.2v2.6h1.3v-2.6h.5v2.6h.8v-2.6h.2v2.6h1v-2.6h.2v2.6h.5v-2.6h.5v2.6h1.3v-2.6h.2v2.6h.3v-2.6h.2v2.6h1v-2.6h.3v2.6h1v-2.6h.2v2.6h2.3v2.6h1v-2.6h.2v2.6h1.8v2.6h.8v-2.6h.2v2.6h.8v-2.6h.2v2.6h.2v2.6h.3v-2.6h.5v2.6h.8v-2.6h.2v2.6h.8v-2.6h.2v2.6h.2v-2.6h.3v2.6h4.5v2.6h.2v-2.6h.3v2.6h.2v-2.6h.5v2.6h.5v-2.6h.3v2.6h2v-2.6h.2v2.6h2.3v2.6h1.5v2.6h.2v-2.6h.3v2.6h.5v-2.6h.2v2.6h.8v2.6h.5v-2.6h.2v2.6h.3v-2.6h.2v2.6h.8v2.6h.2v-2.6h.3v2.6h.2v-2.6h.3v2.6h.5v2.6h.8v2.6h1v2.6h.2v-2.6h.2v2.6h1.3v-2.6h.2v2.6h.3v-2.6h.5v2.6h.2v-2.6h1.8v2.6h.5v-2.6h2v-2.6h.2v2.6h.5v-2.6h2.3v-2.6h.2v5.2h.3v-2.6h1v2.6h.2v-2.6h1v2.6h2.5v2.6h1v2.6h.5v-2.6h.3v2.6h1.2v2.6h.3v-2.6h.2v2.6h1v-2.6h.3v2.6h.2v2.6h.3v-2.6h.5v2.6h.2v-2.6h.5v2.6h1.5v2.6h.3v-2.6h1.5v2.6h.2v-2.6h.3v2.6h1.2v2.6h.3v-2.6h.8v2.6h.2v-2.6h.5v2.6h.5v-2.6h.2v2.6h.8v-2.6h.2v2.6h1.3v2.6h.2v-2.6h.3v2.6h.5v2.6h.2v-5.2h.3v2.6h1v2.6h.5v-2.6h.5v2.6h1.8v2.6h1.7v2.6h.2v-2.6h.3v2.6h2.8v2.6h.2v-2.6h.2v2.6h.3v-2.6h.8v2.6h.2v-2.6h.2v2.6h2.3v-2.6h.2v2.6h1.3v-2.6h.2v2.6h.8v-2.6h.2v2.6h1.3v2.6h.2v-5.2h.3v2.6h4.2v2.6h.3v-2.6h.5v2.6h.8v-2.6h.2v2.6h.2v-2.6h.3v2.6h.5v-2.6h.2v2.6h1.3v2.6h.2v-2.6h.3v2.6h1v-2.6h.2v2.6h.5v2.6h.3v-2.6h.2v2.6h1.5v2.6h.5v2.6h.3v-2.6h1.5v2.6h.2v2.6h.3v-2.6h.5v2.6h.5v-2.6h.5v2.6h.5v-2.6h.2v2.6h1.5v-2.6h.3v2.6h1.2v2.6h.3v-2.6h.2v2.6h.5v-2.6h.5v2.6h1v2.6h.3v-2.6h3v2.6h.2v-2.6h.3v2.6h.8v-2.6h.2v2.6h3.8v2.6h.5v-2.6h1v2.6h.2v-2.6h.2v2.6h.5v-2.6h.5v2.6h.3v-2.6h.8v2.6h.5v2.6h.2v-2.6h.2v-2.6h.5v2.6h1.3v-2.6h.2v2.6h.3v-2.6h.2v2.6h1v2.6h.3v-2.6h.5v-2.6h.2v2.6h1.3v-2.6h.8v2.6h.2v-2.6h1.5v-2.6h.2v2.6h1v-2.6h.3v2.6h.5v-2.6h.2v2.6h.8v-2.6h.8v2.6h.7v-2.6h1v2.6h.2v-2.6h.3v2.6h1.2v-2.6h.3v2.6h1.8v2.6h.2v-2.6h.2v2.6h.3v-2.6h.8v2.6h1v-2.6h.2v2.6h1.8v-2.6h.2v2.6h2v2.6h.2v-2.6h.3v-2.6h.2v5.2h.3v-2.6h.2v2.6h.5v-2.6h.8v2.6h.2v-2.6h3.3v2.6h.2v-2.6h.3v2.6h.8v-2.6h.7v2.6h.5v-2.6h.8v2.6h.2v-2.6h.2v2.6h.5v-2.6h.3v2.6h.2v-2.6h.3v2.6h.5v-2.6h.2v2.6h.5v-2.6h.5v2.6h.8v-2.6h.2v2.6h.3v-2.6h.2v2.6h.3v-2.6h.2v2.6h.3v-2.6h1.2v-2.6h.3v2.6h1v-2.6h.5v2.6h.5v-2.6h1v-2.6h.2v2.6h1v-2.6h.3v2.6h1.5v-2.6h.2v2.6h1v-2.6h.3v5.2h.2v-2.6h1v2.6h.3v-2.6h.2v2.6h.5v-2.6h.3v2.6h.2v2.6h.3v-5.2h.2v2.6h1.3v2.6h.2v-2.6h.8v2.6h1.8v2.6h1.5v-2.6h.2v2.6h1v2.6h.2v-2.6h.3v2.6h.2v-2.6h1.3v2.6h.2v-2.6h1.3v2.6h.2v-5.2h.3v2.6h.5v-2.6h.5v2.6h.2v-2.6h.5v-2.6h.3v2.6h1v-2.6h.2v2.6h.5v-2.6h1v-2.6h.3v2.6h2.2v-2.6h1.5v2.6h.5v-2.6h.8v2.6h.8v-2.6h.5v2.6h1.2v-2.6h.2v5.2h.5v-2.6h1.5v2.6h.8v-2.6h.2v2.6h1.5v2.6h.3v-2.6h1v2.6h.5v-2.6h.8v2.6h.2v-2.6h.2v2.6h.5v-2.6h.3v2.6h.2v-2.6h.8v2.6h.2v-2.6h2v-2.6h.3v2.6h.5v-2.6h.2v2.6h.3v-2.6h1.8v2.6h.2v-2.6h.8v-2.6h.2v2.6h.5v-2.6h.2v2.6h.3v-2.6h.2v2.6h.3v-2.6h.2v-2.6h.3v2.6h.2v-2.6h.3v2.6h.5v-2.6h.5v2.6h.2v-2.6h.5v2.6h.5v-2.6h.5v2.6h.5v-2.6h.8v2.6h.2v-2.6h.5v2.6h.3v-2.6h.5v2.6h.5v-2.6h1.8v-2.6h.2v2.6h.5v2.6h.2v-5.2h.3v2.6h1.2v-2.6h.3v2.6h.2v-2.6h.8v-2.6h1v-2.6h.5v-2.6h1.2v-2.6h.3v-2.6h.2v2.6h.8v-2.6h.2v2.6h.3v-2.6h.8v2.6h.2v-2.6h.2v2.6h.5v-2.6h1.3v2.6h.2v-2.6h1v2.6h.3v-2.6h2v2.6h.2v-2.6h2v2.6h.3v-2.6h.5v2.6h.2v-2.6h.3v2.6h.5v-2.6h.2v2.6h.3v-2.6h.5v-2.6h.2v2.6h1v-2.6h1.3v-2.6h.2v2.6h.5v-2.6h.3v-2.6h.2v2.6h.3v-2.6h.2v2.6h.3v-2.6h.5v-2.6h.2v2.6h.3v-2.6h1.5v-2.6h.2v2.6h.8v-2.6h1.2v-2.6h.5v2.6h.5v-2.6h1v-2.6h.3v2.6h.2v-2.6h.3v2.6h.2v-2.6h.3v2.6h.2v-2.6h.3v2.6h.5v-2.6h.2v2.6h1v-2.6h.3v2.6h2.8v2.6h.2v-2.6h2v2.6h.2v-2.6h1.5v2.6h.8v-2.6h1.2v-2.6h.5v2.6h.3v-2.6h.2v2.6h.5v-2.6h.5v2.6h.3v-2.6h1.8v-2.6h.2v2.6h1v-2.6h.2v2.6h.3v-2.6h.2v2.6h2v-2.6h.3v2.6h1v-2.6h.2v2.6h.8v2.6h.2v-2.6h4.3v2.6h.5v-2.6h.8v2.6h.5v-2.6h.2v2.6h.2v-2.6h.5v2.6h.3v-2.6h.8v-2.6h.2v5.2h.2v-2.6h.3v-2.6h.2v2.6h.3v-2.6h.8v2.6h.2v-2.6h1.8v-2.6h.2v2.6h.5v-2.6h3v-2.6h.8v2.6h1v-2.6h.2v2.6h.5v-2.6h.5v2.6h.8v-2.6h.2v2.6h.2v-2.6h.3v2.6h.2v2.6h.3v-2.6h.2v-2.6h.3v2.6h3.5v-2.6h.2v2.6h2.5v-2.6h.3v2.6h.2v2.6h.3v-2.6h.5v-2.6h.2v5.2h.3v-2.6h1v-2.6h.2v2.6h.5v-2.6h.8v2.6h.2v-2.6h1.5v-2.6h.5v2.6h.5v-2.6h2v-2.6h.5v2.6h.5v-2.6h.3v2.6h1.2v-2.6h.5v2.6h2v-2.6h.3v2.6h.5v-2.6h.2v2.6h.3v2.6h.5v-2.6h.2v2.6h1v-2.6h.5v2.6h3v2.6h.3v-2.6h.2v2.6h1.8v-2.6h.2v2.6h.5v-2.6h.5v2.6h.5v-2.6h1.5v-2.6h.3v2.6h.5v-2.6h1v2.6h.2v-2.6h1v-2.6h.5v2.6h.3v-2.6h.5v2.6h.2v-2.6h.3v-2.6h.2v2.6h1v-2.6h.3v2.6h.2v-2.6h.3v2.6h.5v2.6h.2v-2.6h2.8v2.6h1.5v-2.6h.2v2.6h1v2.6h.5v-2.6h.3v2.6h.5v-2.6h.5v2.6h.2v-2.6h.3v2.6h1.5v-2.6h.2v2.6h.3v-2.6h.2v2.6h.5v-2.6h2v-2.6h1.8v-2.6h.8v-2.6h.2v5.2h.2v-2.6h1.8v-2.6h.5v2.6h.2v-2.6h.5v2.6h.5v-2.6h.8v2.6h.2v-2.6h.5v2.6h.3v-2.6h.8v2.6h2v2.6h1.2v2.6h1v2.6h1v2.6h.5v-2.6h.8v2.6h.2v-2.6h3.5v-2.6h.5v2.6h.2v-2.6h1.3v-2.6h.2v2.6h.3v-2.6h.2v2.6h.3v-2.6h1v2.6h.2v-2.6h.3v2.6h.8v-2.6h.5v2.6h.2v-2.6h.2v-2.6h.3v2.6h1v-2.6h.2v2.6h1.5v-2.6h.3v2.6h1v-2.6h.8v2.6h.5v-2.6h.2v2.6h.5v-2.6h2.2v-2.6h.5v2.6h.8v-2.6h.5v2.6h.2v-2.6h.5v2.6h.5v-2.6h.3v2.6h.2v-2.6h.5v2.6h.3v-2.6h1v2.6h.2v-2.6h1.5v2.6h.3v-2.6h.5v2.6h.2v-2.6h.3v-2.6h.2v2.6h.5v-2.6h.5v2.6h.8v-2.6h.2v2.6h1v-2.6h.3v2.6h.8v-2.6h.2v2.6h.2v-2.6h2.3v2.6h.2v-2.6h2v-2.6h.5v2.6h.3v-2.6h.5v2.6h.2v-2.6h1.8v-2.6h.5v2.6h1.2v-2.6h.3v2.6h.2v-2.6h1.3v-2.6h.2v2.6h1v-2.6h.3v2.6h.5v-2.6h.8v2.6h.2v-2.6h.8v2.6h.5v-2.6h.7v2.6h.2v-2.6h.3v2.6h.5v-2.6h1v2.6h.2v-2.6h.5v2.6h.3v-2.6h.5v2.6h.5v-2.6h.8v2.6h.5v-2.6h1v2.6h.5v-2.6h.7v2.6h.5v-2.6h.2v2.6h.5v-2.6h.3v2.6h2v-2.6h.5v2.6h.2v-2.6h.3v2.6h.2v-2.6h.8v2.6h.5v-2.6h.2v2.6h.5v-2.6h.3v2.6h.5v-2.6h.2v2.6h1.5v-2.6h.3v2.6h.8v2.6h.2v-2.6h1v2.6" fill="none" stroke="#FF0000" stroke-width="9.0" stroke-linejoin="miter" stroke-dasharray="33 31" shape-rendering="crispEdges"/>
<path d="M1856.5,366.5h6v-4.5h6.5" fill="none" stroke="#FF0000" stroke-width="9" shape-rendering="crispEdges"/>
<g shape-rendering="crispEdges">
<rect x="1235" y="1184" width="580" height="213" fill="#fff"/>
<rect x="1235" y="1184" width="580" height="4" fill="#222222"/><rect x="1235" y="1393" width="580" height="4" fill="#222222"/><rect x="1235" y="1184" width="4" height="213" fill="#222222"/><rect x="1812" y="1184" width="3" height="213" fill="#222222"/>
<rect x="1252" y="1221" width="120" height="9" fill="#0072BD"/>
<rect x="1252" y="1286" width="120" height="9" fill="#D95319"/>
<rect x="1252" y="1351" width="33" height="9" fill="#FF0000"/><rect x="1316" y="1351" width="32" height="9" fill="#FF0000"/>
</g>
<defs><clipPath id="c_ten"><rect x="-20.00" y="-62.40" width="102.40" height="56.40"/><rect x="11.80" y="-7.00" width="7.13" height="10.50"/><rect x="28.91" y="-7.00" width="102.40" height="21.60"/></clipPath><clipPath id="c_yr1"><rect x="-20.00" y="-62.40" width="133.60" height="56.40"/><rect x="55.17" y="-7.00" width="7.13" height="10.50"/><rect x="-20.00" y="-7.00" width="63.37" height="21.60"/></clipPath><clipPath id="c_x1"><rect x="-20.00" y="-62.40" width="71.20" height="56.45"/><rect x="11.85" y="-6.95" width="7.03" height="10.35"/><rect x="28.91" y="-6.95" width="71.20" height="21.55"/></clipPath><clipPath id="c_x15"><rect x="-20.00" y="-62.40" width="133.60" height="56.45"/><rect x="11.85" y="-6.95" width="7.03" height="10.35"/><rect x="28.91" y="-6.95" width="133.60" height="21.55"/></clipPath></defs>
<text transform="matrix(0.9946 0.0000 0.0000 0.9769 98.9010 114.9824)" font-size="52" fill="#0072BD" stroke="#0072BD" stroke-width="1.5">6</text>
<text transform="matrix(0.9924 0.0000 0.0000 0.9769 98.3598 564.6137)" font-size="52" fill="#0072BD" stroke="#0072BD" stroke-width="1.5">4</text>
<text transform="matrix(1.0397 0.0000 0.0000 0.9769 98.1863 1016.0108)" font-size="52" fill="#0072BD" stroke="#0072BD" stroke-width="1.5">2</text>
<text transform="matrix(0.9538 0.0000 0.0000 0.9769 99.7343 1465.8853)" font-size="52" fill="#0072BD" stroke="#0072BD" stroke-width="1.5">0</text>
<text transform="matrix(1.0176 0.0000 0.0000 1.0646 153.5941 92.1167)" font-size="62" fill="#0072BD" style="font-family:'Liberation Serif',serif">×</text>
<text transform="matrix(0.9661 0.0000 0.0000 0.9769 195.6686 81.2382)" font-size="52" fill="#0072BD" stroke="#0072BD" stroke-width="1.5" clip-path="url(#c_ten)">10</text>
<text transform="matrix(1.0312 0.0000 0.0000 1.0063 253.9716 58.1069)" font-size="43" fill="#0072BD" stroke="#0072BD" stroke-width="1.3">-5</text>
<text transform="matrix(1.0049 0.0000 0.0000 0.9809 1885.6294 114.9216)" font-size="52" fill="#D95319" stroke="#D95319" stroke-width="1.5" clip-path="url(#c_yr1)">0.1</text>
<text transform="matrix(0.9922 0.0000 0.0000 0.9809 1885.7255 790.6020)" font-size="52" fill="#D95319" stroke="#D95319" stroke-width="1.5">0.05</text>
<text transform="matrix(0.9767 0.0000 0.0000 0.9809 1885.7127 1466.0059)" font-size="52" fill="#D95319" stroke="#D95319" stroke-width="1.5">0</text>
<text transform="matrix(0.9433 0.0000 0.0000 0.9713 136.8990 1521.0294)" font-size="52" fill="#262626" stroke="#262626" stroke-width="1.4">0</text>
<text transform="matrix(0.9847 0.0000 0.0000 0.9713 334.4451 1521.0098)" font-size="52" fill="#262626" stroke="#262626" stroke-width="1.4">0.5</text>
<text transform="matrix(0.9912 0.0000 0.0000 0.9713 577.0588 1520.9186)" font-size="52" fill="#262626" stroke="#262626" stroke-width="1.4" clip-path="url(#c_x1)">1</text>
<text transform="matrix(0.9942 0.0000 0.0000 0.9713 773.0824 1520.1765)" font-size="52" fill="#262626" stroke="#262626" stroke-width="1.4" clip-path="url(#c_x15)">1.5</text>
<text transform="matrix(1.0286 0.0000 0.0000 0.9713 1013.8451 1520.7833)" font-size="52" fill="#262626" stroke="#262626" stroke-width="1.4">2</text>
<text transform="matrix(1.0136 0.0000 0.0000 0.9713 1211.0255 1520.9588)" font-size="52" fill="#262626" stroke="#262626" stroke-width="1.4">2.5</text>
<text transform="matrix(0.9884 0.0000 0.0000 0.9713 1453.9294 1520.9569)" font-size="52" fill="#262626" stroke="#262626" stroke-width="1.4">3</text>
<text transform="matrix(0.9861 0.0000 0.0000 0.9713 1651.4627 1520.9490)" font-size="52" fill="#262626" stroke="#262626" stroke-width="1.4">3.5</text>
<text transform="matrix(1.0555 0.0000 0.0000 1.0375 900.4314 1600.4914)" font-size="57" fill="#262626" stroke="#262626" stroke-width="0.9">Time (s)</text>
<text transform="matrix(0.0000 -1.0444 1.0697 0.0000 66.5756 810.5461)" font-size="57" fill="#0072BD" stroke="#0072BD" stroke-width="1.1">Dd</text>
<text transform="matrix(0.0000 -1.0526 1.0697 0.0000 2066.3756 808.2039)" font-size="57" fill="#D95319" stroke="#D95319" stroke-width="1.1">Dc</text>
<text transform="matrix(1.0087 0.0000 0.0000 1.0168 1383.0029 1243.7543)" font-size="47" fill="#000000" stroke="#000000" stroke-width="1.4">Excitation signal</text>
<text transform="matrix(1.0082 0.0000 0.0000 1.0168 1383.6765 1308.6543)" font-size="47" fill="#000000" stroke="#000000" stroke-width="1.4">Averaged response</text>
<text transform="matrix(1.0059 0.0000 0.0000 1.0168 1383.3794 1373.7543)" font-size="47" fill="#000000" stroke="#000000" stroke-width="1.4">Single response</text>
</svg></body></html>
